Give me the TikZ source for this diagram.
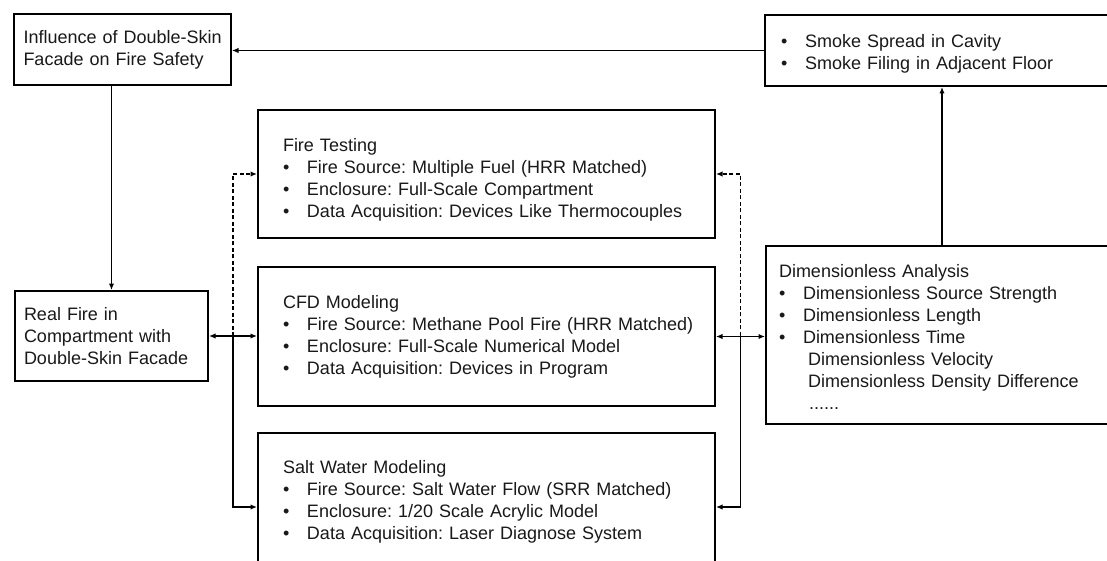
\documentclass[tikz,border=0pt]{standalone}
\usepackage{fontspec}
\setmainfont{Liberation Sans}
\usetikzlibrary{arrows.meta,calc}
\frenchspacing
\newcommand{\bitem}[1]{\mbox{\makebox[24pt][l]{\textbullet}#1}}
\newcommand{\lift}[1]{\rule{0pt}{#1}}

\begin{document}
\begin{tikzpicture}[x=1pt,y=-1pt,
  font=\fontsize{18}{22}\selectfont,
  box/.style={draw,line width=2pt,anchor=north west,align=left,
              inner ysep=0pt,text=black!90},
  arr/.style={-{Latex[length=6.5pt,width=5.5pt]},line width=1.3pt},
  dbl/.style={{Latex[length=6.5pt,width=5.5pt]}-{Latex[length=6.5pt,width=5.5pt]},line width=1.3pt},
  opt/.style={arr,dash pattern=on 4pt off 2.5pt}
]
\path[use as bounding box,fill=white] (0,0) rectangle (1107,561);
\clip (0,0) rectangle (1107,561);

\node[box,inner xsep=9.5pt,text width=198pt,minimum height=71pt] (infl) at (13,13)
  {\mbox{Influence of Double-Skin}\\\mbox{Facade on Fire Safety}};
\node[box,inner xsep=16pt,text width=322pt,minimum height=71pt] (smoke) at (764,14)
  {\lift{19pt}\bitem{Smoke Spread in Cavity}\\\bitem{Smoke Filing in Adjacent Floor}};
\node[box,inner xsep=9pt,text width=175pt,minimum height=90pt] (fire) at (14,290)
  {Real Fire in\\Compartment with\\Double-Skin Facade};

\node[box,inner xsep=25pt,text width=407pt,minimum height=128pt] (test) at (257,109)
  {\lift{25pt}Fire Testing\\
   \bitem{Fire Source: Multiple Fuel (HRR Matched)}\\
   \bitem{Enclosure: Full-Scale Compartment}\\
   \bitem{Data Acquisition: Devices Like Thermocouples}};
\node[box,inner xsep=25pt,text width=407pt,minimum height=139pt] (cfd) at (257,266)
  {CFD Modeling\\
   \bitem{Fire Source: Methane Pool Fire (HRR Matched)}\\
   \bitem{Enclosure: Full-Scale Numerical Model}\\
   \bitem{Data Acquisition: Devices in Program}};
\node[box,inner xsep=25pt,text width=407pt,minimum height=138pt] (salt) at (257,432)
  {Salt Water Modeling\\
   \bitem{Fire Source: Salt Water Flow (SRR Matched)}\\
   \bitem{Enclosure: 1/20 Scale Acrylic Model}\\
   \bitem{Data Acquisition: Laser Diagnose System}};

\node[box,inner xsep=13pt,text width=326pt,minimum height=178pt] (dim) at (765,245)
  {\lift{17pt}Dimensionless Analysis\\
   \bitem{Dimensionless Source Strength}\\
   \bitem{Dimensionless Length}\\
   \bitem{Dimensionless Time}\\
   \hspace*{29pt}Dimensionless Velocity\\
   \hspace*{29pt}Dimensionless Density Difference\\
   \hspace*{30pt}......};

\coordinate (lj) at ($(fire.east)!0.5!(cfd.west)$);
\coordinate (rj) at ($(cfd.east)!0.5!(dim.west)$);

\draw[arr] (smoke.west) -- (smoke.west -| infl.east);
\draw[arr] (fire.north |- infl.south) -- (fire.north);
\draw[dbl] (fire.east) -- (fire.east -| cfd.west);
\draw[dbl] (cfd.east) -- (cfd.east -| dim.west);
\draw[opt] (lj) |- (test.west);
\draw[arr] (lj) |- ([yshift=-5pt]salt.west);
\draw[opt] (rj) |- (test.east);
\draw[arr] (rj) |- ([yshift=-5pt]salt.east);
\draw[arr] (dim.north) -- (smoke.south);
\end{tikzpicture}
\end{document}
